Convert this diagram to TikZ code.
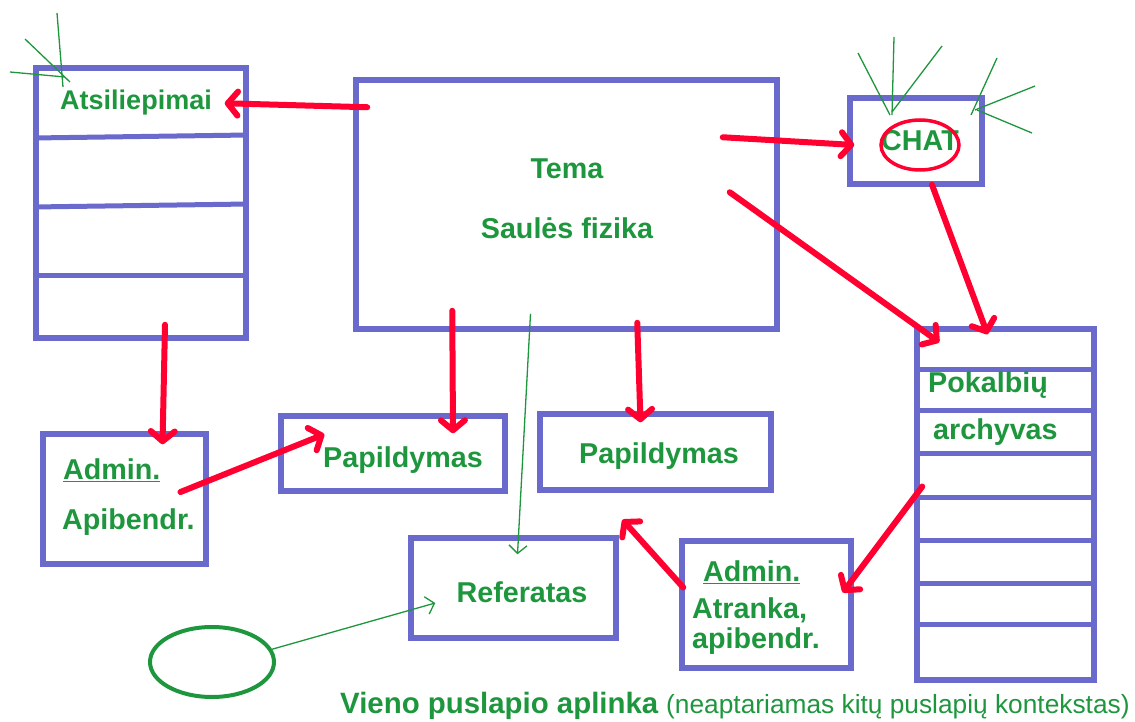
\documentclass[tikz,border=0pt]{standalone}
\usepackage{fontspec}
\setmainfont{Liberation Sans}
\usetikzlibrary{arrows.meta,shapes.geometric,calc}
\definecolor{boxblue}{RGB}{106,106,205}
\definecolor{tgreen}{RGB}{30,150,62}
\definecolor{ared}{RGB}{255,0,48}
\begin{document}
\begin{tikzpicture}[x=1pt,y=-1pt,
 box/.style={draw=boxblue,line width=5.5pt,inner sep=0pt},
 divider/.style={draw=boxblue,line width=5pt},
 lbl/.style={text=tgreen,font=\fontsize{28.7}{30}\selectfont\bfseries,inner sep=0pt},
 redarr/.style={draw=ared,line width=6pt,line cap=round,-{Straight Barb[length=10pt,width=24pt,round]}},
 garr/.style={draw=tgreen,line width=1.3pt,-{Straight Barb[length=8pt,width=18pt]}},
 gline/.style={draw=tgreen,line width=1.3pt}]
\useasboundingbox (0,0) rectangle (1135,722);

% boxes
\node[box,minimum width=210pt,minimum height=270pt] (left) at (141,203) {};
\node[box,minimum width=421pt,minimum height=249pt] (tema) at (566.5,204.5) {};
\node[box,minimum width=132pt,minimum height=86pt] (chatbox) at (916,141) {};
\node[box,minimum width=177pt,minimum height=351pt] (arch) at (1005.5,504.5) {};
\node[box,minimum width=163pt,minimum height=130pt] (adm1) at (124.5,499) {};
\node[box,minimum width=224pt,minimum height=75pt] (pap1) at (393,453.5) {};
\node[box,minimum width=231pt,minimum height=76pt] (pap2) at (655.5,452) {};
\node[box,minimum width=205pt,minimum height=100pt] (ref) at (513.5,588) {};
\node[box,minimum width=169pt,minimum height=127pt] (adm2) at (766.5,604.5) {};
\node[draw=tgreen,line width=4pt,ellipse,minimum width=124pt,minimum height=70pt,inner sep=0pt] (ell) at (212,662) {};

% dividers
\draw[divider] (left.west |- 0,138) -- (left.east |- 0,135);
\draw[divider] (left.west |- 0,207) -- (left.east |- 0,204);
\draw[divider] (left.west |- 0,275) -- (left.east |- 0,275);
\foreach \yy in {369,410,453,497,540,583,624} \draw[divider] (arch.west |- 0,\yy) -- (arch.east |- 0,\yy);

% texts
\node[lbl,font=\fontsize{27}{30}\selectfont\bfseries] (tatsil) at (136,103) {Atsiliepimai};
\node[lbl] (ttema) at (567,169) {Tema};
\node[lbl] (tsaul) at (567,228) {Saulės fizika};
\node[lbl] (tchat) at (920,141) {CHAT};
\draw[ared,line width=3.5pt] (920,145) ellipse [x radius=39, y radius=25];
\node[lbl,anchor=west] (tpok) at (928,385) {Pokalbių};
\node[lbl,anchor=west] (tarch) at (933,432) {archyvas};
\node[lbl,anchor=west] (tadm1) at (63,470) {\underline{Admin.}};
\node[lbl,anchor=west] (tapib) at (62,522) {Apibendr.};
\node[lbl] (tpap1) at (403,460) {Papildymas};
\node[lbl] (tpap2) at (659,456) {Papildymas};
\node[lbl] (tref) at (522,592) {Referatas};
\node[lbl,anchor=west] (tadm2) at (703,572) {\underline{Admin.}};
\node[lbl,anchor=west,align=left] (tatr) at (692,626) {Atranka,\\apibendr.};
\node[text=tgreen,anchor=west,inner sep=0pt] (cap) at (340,706)
  {{\fontsize{29.4}{30}\selectfont\bfseries Vieno puslapio aplinka}\hspace{8pt}{\fontsize{26.3}{30}\selectfont(neaptariamas kitų puslapių kontekstas)}};

% red arrows
\draw[redarr] ($(tema.north west)+(14,30)$) -- ($(left.north east)+(-24,38)$);
\draw[redarr] ($(tema.north east)+(-57,60)$) -- ($(chatbox.west)+(7,4)$);
\draw[redarr] ($(tema.north east)+(-50,115)$) -- ($(arch.north west)+(25,16)$);
\draw[redarr] ($(chatbox.south)+(16,-2)$) -- ($(arch.north)+(-18,8)$);
\draw[redarr] ($(left.south)+(24,-16)$) -- ($(adm1.north)+(38,13)$);
\draw[redarr] ($(adm1.center)+(56,-7)$) -- ($(pap1.north west)+(46,21)$);
\draw[redarr] ($(tema.south west)+(99,-21)$) -- ($(pap1.north)+(60,20)$);
\draw[redarr] ($(tema.south west)+(284,-9)$) -- ($(pap2.north)+(-15,11)$);
\draw[redarr] ($(arch.west)+(8,-18)$) -- ($(adm2.east)+(-11,-12)$);
\draw[redarr] ($(adm2.west)+(4,-17)$) -- ($(pap2.south)+(-33,27)$);

% green arrows
\draw[garr] ($(tema.south)+(-36,-18)$) -- ($(ref.north)+(4,19)$);
\draw[garr] (ell.12) -- ($(ref.west)+(27,15)$);

% green star strokes
\draw[gline] (57,13) -- (63,87);
\draw[gline] (25,39) -- (70,82);
\draw[gline] (10,72) -- (65,77);
\draw[gline] (894,37) -- (892,115);
\draw[gline] (858,53) -- (890,115);
\draw[gline] (942,46) -- (892,112);
\draw[gline] (997,58) -- (971,115);
\draw[gline] (1035,86) -- (975,110);
\draw[gline] (1032,133) -- (977,110);
\end{tikzpicture}
\end{document}
